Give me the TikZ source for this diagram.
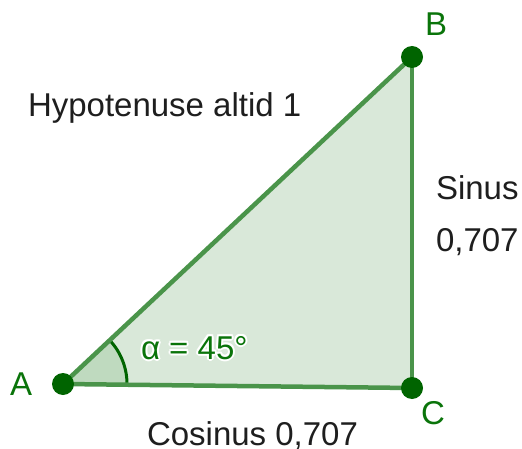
\documentclass[tikz,border=0pt]{standalone}
\usepackage{fontspec}
\setmainfont{Liberation Sans}
\usetikzlibrary{calc}
\definecolor{ptgreen}{HTML}{006400}
\definecolor{edgegreen}{HTML}{4A944A}
\definecolor{fillgreen}{HTML}{D9E8D9}
\definecolor{anglegreen}{HTML}{BFDABF}
\definecolor{labgreen}{HTML}{0A740A}
\definecolor{txt}{HTML}{1E1E1E}
\begin{document}
\begin{tikzpicture}[x=1pt,y=1pt,
  every node/.style={inner sep=0pt, outer sep=0pt, font=\fontsize{33}{40}\selectfont},
  side/.style={draw=edgegreen, line width=4.5pt, line join=round},
  pt/.style={circle, fill=ptgreen, minimum size=22pt},
  ptlabel/.style={text=labgreen, anchor=base west},
  plain/.style={text=txt, anchor=base west}]
\useasboundingbox (0,0) rectangle (522,448);
\coordinate (A) at (63,64);
\coordinate (B) at (412,391);
\coordinate (C) at (412,60);
% polygon fill
\fill[fillgreen] (A) -- (B) -- (C) -- cycle;
% angle sector
\fill[anglegreen] (A) -- ($(A)!64pt!(C)$) arc[start angle=-0.66, end angle=43.1, radius=64pt] -- cycle;
\draw[ptgreen, line width=3pt] ($(A)!64pt!(C)$) arc[start angle=-0.66, end angle=43.1, radius=64pt];
% sides
\draw[side] (A) -- (B);
\draw[side] (B) -- (C);
\draw[side] (C) -- (A);
% points
\node[pt] (pA) at (A) {};
\node[pt] (pB) at (B) {};
\node[pt] (pC) at (C) {};
% point labels
\node[ptlabel] (lA) at (10,53) {A};
\node[ptlabel] (lB) at (425,412) {B};
\node[ptlabel] (lC) at (421,24) {C};
% angle label with white halo
\foreach \a in {0,45,...,315}{
  \node[anchor=base west, text=white] at ($(141,89)+(\a:2pt)$) {α = 45°};
}
\node[ptlabel] (alpha) at (141,89) {α = 45°};
% texts
\node[plain] (hyp) at (28,331) {Hypotenuse altid 1};
\node[plain] (sin) at (436,249) {Sinus};
\node[plain] (sinv) at (436,197) {0,707};
\node[plain] (cos) at (147,3) {Cosinus 0,707};
\end{tikzpicture}
\end{document}
